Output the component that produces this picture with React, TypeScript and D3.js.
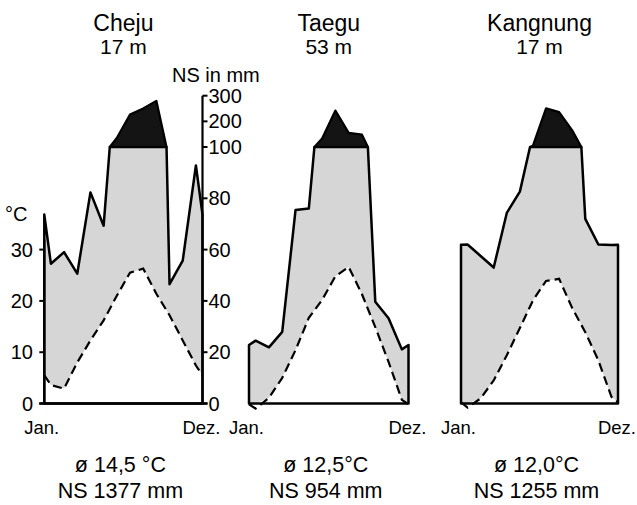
import React from "react";
import * as d3 from "d3";

// ---- data ----
const stationNames = ["Cheju", "Taegu", "Kangnung"];
const stationHeights = ["17 m", "53 m", "17 m"];
const stationMeanTemp = ["ø 14,5 °C", "ø 12,5°C", "ø 12,0°C"];
const stationTotalPrec = ["NS 1377 mm", "NS 954 mm", "NS 1255 mm"];

const chejuTemp = [3.6, 2.9, 8.0, 12.3, 16.2, 21.0, 25.5, 26.3, 21.4, 17.2, 12.3, 7.4];
const chejuPrec = [54.5, 59, 50.6, 82.3, 69.3, 135, 227, 250, 280, 46.5, 55.7, 92.8];
const taeguTemp = [-1.0, 1.1, 5.0, 10.4, 16.7, 20.2, 24.8, 26.6, 21.3, 14.9, 8.1, 0.7];
const taeguPrec = [24.5, 21.9, 27.9, 75.4, 76, 133, 242, 155, 148, 39.7, 33.2, 21.1];
const kangTemp = [-0.8, 1.0, 4.5, 9.4, 14.7, 20.1, 23.9, 24.3, 18.6, 13.9, 8.4, 1.3];
const kangPrec = [62, 57.5, 53, 74.3, 82.6, 105, 251, 236, 165, 72, 62, 61.8];

const tempTicks = [0, 10, 20, 30];
const precTicks = [0, 20, 40, 60, 80, 100, 200, 300];
const monthLabels = ["Jan.", "Dez."];

const temps = [chejuTemp, taeguTemp, kangTemp];
const precs = [chejuPrec, taeguPrec, kangPrec];

// ---- layout ----
const W = 637;
const H = 505;
const BASE = 403.5;
const PX_PER_10C = 51.3;
const panelRanges: [number, number][] = [
  [44.3, 202.5],
  [249, 408.5],
  [461, 618],
];
const FONT = "'Liberation Sans', Arial, Helvetica, sans-serif";
const GREY = "#d6d6d6";

const yT = d3.scaleLinear().domain([0, 10]).range([BASE, BASE - PX_PER_10C]);
// lower precipitation scale: 20 mm = 10 °C (unclamped, linear)
const yLow = d3.scaleLinear().domain([0, 20]).range([BASE, BASE - PX_PER_10C]);
const Y100 = yLow(100);
// upper precipitation scale reduced to 1/10
const yHigh = d3.scaleLinear().domain([100, 300]).range([Y100, Y100 - (yLow(0) - yLow(20))]);

type Pt = [number, number];

function Panel({ idx }: { idx: number }) {
  const [x0, x1] = panelRanges[idx];
  const xs = d3.scaleLinear().domain([0, 12]).range([x0, x1]);
  const T = temps[idx];
  const P = precs[idx];

  const tEdge = (T[11] + T[0]) / 2;
  const tPts: { u: number; v: number }[] = [
    { u: 0, v: tEdge },
    ...T.map((v, i) => ({ u: i + 0.5, v })),
    { u: 12, v: tEdge },
  ];
  const pEdge = (P[11] + P[0]) / 2;
  const pPts: { u: number; v: number }[] = [
    { u: 0, v: pEdge },
    ...P.map((v, i) => ({ u: i + 0.5, v })),
    { u: 12, v: pEdge },
  ];

  // clipped (at 100 mm) precipitation line and the black parts above 100 mm
  const top: Pt[] = [];
  const blacks: Pt[][] = [];
  let cur: Pt[] | null = null;
  pPts.forEach((p, i) => {
    if (i > 0) {
      const a = pPts[i - 1];
      if ((a.v - 100) * (p.v - 100) < 0) {
        const t = (100 - a.v) / (p.v - a.v);
        const xc = xs(a.u + t * (p.u - a.u));
        top.push([xc, Y100]);
        if (p.v > 100) {
          cur = [[xc, Y100]];
        } else if (cur) {
          cur.push([xc, Y100]);
          blacks.push(cur);
          cur = null;
        }
      }
    }
    if (p.v > 100) {
      top.push([xs(p.u), Y100]);
      if (cur) cur.push([xs(p.u), yHigh(p.v)]);
    } else {
      top.push([xs(p.u), yLow(p.v)]);
    }
  });

  const line = d3.line<Pt>();
  const tLine: Pt[] = tPts.map((p) => [xs(p.u), yT(p.v)]);
  const tClamped: Pt[] = tPts.map((p) => [xs(p.u), yT(Math.max(0, p.v))]);

  const greyPoly = [...top, ...tClamped.slice().reverse()];
  const outline: Pt[] = [[x0, BASE], ...top, [x1, BASE]];

  const cx = (x0 + x1) / 2;

  return (
    <g>
      <path d={line(greyPoly)! + "Z"} fill={GREY} stroke="none" />
      {blacks.map((b, k) => (
        <path key={k} d={line(b)! + "Z"} fill="#141414" stroke="#000" strokeWidth={2.2} strokeLinejoin="round" />
      ))}
      <path d={line(outline)! + "Z"} fill="none" stroke="#000" strokeWidth={2.5} strokeLinejoin="round" />
      <path d={line(tLine)!} fill="none" stroke="#000" strokeWidth={2.2} strokeDasharray="9 5" />

      {/* titles */}
      <text x={cx} y={31} textAnchor="middle" fontSize={23}>
        {stationNames[idx]}
      </text>
      <text x={cx} y={54} textAnchor="middle" fontSize={21}>
        {stationHeights[idx]}
      </text>

      {/* month labels */}
      <text x={x0 - 20} y={434} fontSize={18.5}>
        {monthLabels[0]}
      </text>
      <text x={x1 + 18} y={434} textAnchor="end" fontSize={18.5}>
        {monthLabels[1]}
      </text>

      {/* bottom summary */}
      <text x={cx - 3} y={472} textAnchor="middle" fontSize={21.5}>
        {stationMeanTemp[idx]}
      </text>
      <text x={cx - 3} y={498} textAnchor="middle" fontSize={21.5}>
        {stationTotalPrec[idx]}
      </text>
    </g>
  );
}

function Axes() {
  const [x0, x1] = panelRanges[0];
  const yP = (v: number) => (v <= 100 ? yLow(v) : yHigh(v));
  return (
    <g>
      <line x1={x0 - 5} x2={x1 + 5} y1={BASE} y2={BASE} stroke="#000" strokeWidth={2.5} />
      <line x1={x0} x2={x0} y1={BASE} y2={yT(30) - 10} stroke="#000" strokeWidth={2.2} />
      {tempTicks.map((t) => (
        <g key={t}>
          <line x1={x0 - 5} x2={x0} y1={yT(t)} y2={yT(t)} stroke="#000" strokeWidth={2} />
          <text x={33} y={yT(t) + 7} textAnchor="end" fontSize={20}>
            {t}
          </text>
        </g>
      ))}
      <text x={5} y={221} fontSize={20}>
        °C
      </text>
      <line x1={x1} x2={x1} y1={BASE} y2={yP(300)} stroke="#000" strokeWidth={2.2} />
      {precTicks.map((p) => (
        <g key={p}>
          <line x1={x1} x2={x1 + 5} y1={yP(p)} y2={yP(p)} stroke="#000" strokeWidth={2} />
          <text x={x1 + 6} y={yP(p) + 7} fontSize={20}>
            {p}
          </text>
        </g>
      ))}
      <text x={172} y={82} fontSize={20}>
        NS in mm
      </text>
    </g>
  );
}

export default function App() {
  return (
    <svg
      width={W}
      height={H}
      viewBox={`0 0 ${W} ${H}`}
      style={{ position: "absolute", left: 0, top: 0, background: "#fff" }}
      fontFamily={FONT}
      fill="#000"
    >
      <rect x={0} y={0} width={W} height={H} fill="#fff" />
      {[0, 1, 2].map((i) => (
        <Panel key={i} idx={i} />
      ))}
      <Axes />
    </svg>
  );
}
